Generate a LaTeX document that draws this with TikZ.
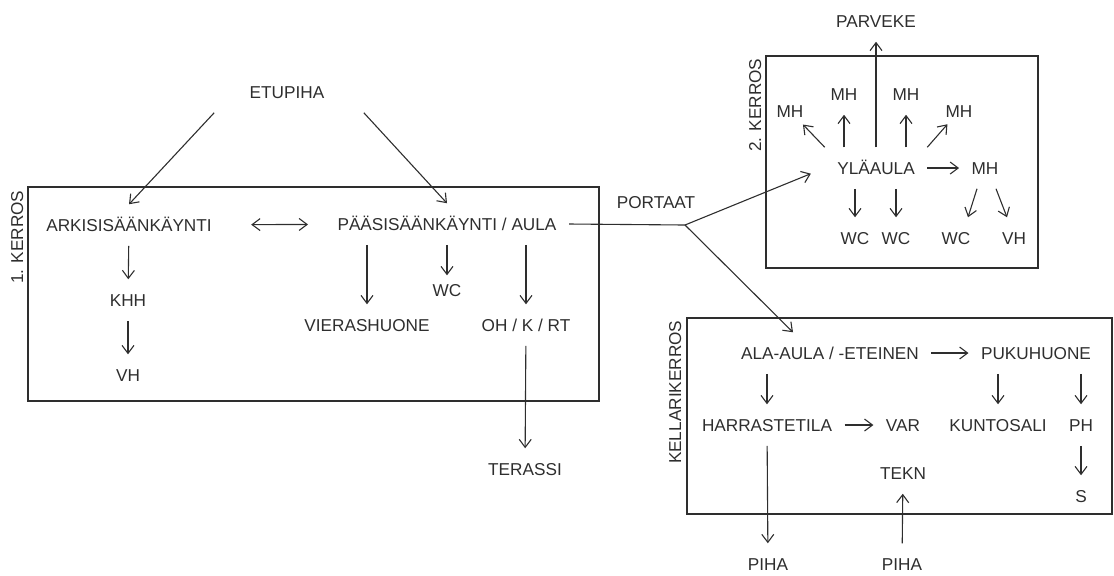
\documentclass[tikz,border=0pt]{standalone}
\usepackage{fontspec}
\setmainfont{Liberation Sans}
\usetikzlibrary{arrows.meta}

\begin{document}
\begin{tikzpicture}[x=0.5pt,y=-0.5pt,line width=0.55pt,color=black!82,
    >={Straight Barb[length=4pt,width=6pt]},
    room/.style={font=\fontsize{8.6}{10}\selectfont,inner xsep=6pt,inner ysep=7pt,text height=6.2pt,text depth=0pt},
    floorlabel/.style={room,inner sep=0pt,rotate=90,anchor=east}]
    \useasboundingbox (0,0) rectangle (1114,575);
    \draw (28,187) rectangle (599,401);
    \draw (766,56) rectangle (1038,268);
    \draw (687,318) rectangle (1112,514);
    \node [floorlabel] (kerros1) at (17,190) {1. KERROS};
    \node [floorlabel] (kerros2) at (755,58) {2. KERROS};
    \node [floorlabel] (kellari) at (675,320) {KELLARIKERROS};
    \coordinate (jako) at (685,225);
    \node [room] (etupiha) at (287,92) {ETUPIHA};
    \node [room] (arki) at (129,225) {ARKISISÄÄNKÄYNTI};
    \node [room] (paasis) at (447,224) {PÄÄSISÄÄNKÄYNTI / AULA};
    \node [room] (khh) at (128,300) {KHH};
    \node [room] (vh1) at (128,375) {VH};
    \node [room] (vieras) at (367,325) {VIERASHUONE};
    \node [room] (wc1) at (447,290) {WC};
    \node [room] (ohkrt) at (526,325) {OH / K / RT};
    \node [room] (terassi) at (525,469) {TERASSI};
    \node [room] (portaat) at (656,202) {PORTAAT};
    \node [room] (parveke) at (876,21) {PARVEKE};
    \node [room] (ylaaula) at (876,168) {YLÄAULA};
    \node [room] (mh1) at (790,111) {MH};
    \node [room] (mh2) at (844,94) {MH};
    \node [room] (mh3) at (906,94) {MH};
    \node [room] (mh4) at (959,111) {MH};
    \node [room] (mh5) at (985,168) {MH};
    \node [room] (wc2) at (855,238) {WC};
    \node [room] (wc3) at (896,238) {WC};
    \node [room] (wc4) at (956,238) {WC};
    \node [room] (vh2) at (1014,238) {VH};
    \node [room] (alaaula) at (830,353) {ALA-AULA / -ETEINEN};
    \node [room] (puku) at (1036,353) {PUKUHUONE};
    \node [room] (harras) at (767,425) {HARRASTETILA};
    \node [room] (var) at (903,425) {VAR};
    \node [room] (kunto) at (998,425) {KUNTOSALI};
    \node [room] (ph) at (1081,425) {PH};
    \node [room] (tekn) at (903,473) {TEKN};
    \node [room] (s) at (1081,496) {S};
    \node [room] (piha1) at (768,564) {PIHA};
    \node [room] (piha2) at (902,564) {PIHA};
    \draw [->] ([xshift=-11.5pt]etupiha.south west) -- (arki.north);
    \draw [->] ([xshift=13.5pt]etupiha.south east) -- (paasis.north);
    \draw [<->,shorten <=13.5pt,shorten >=8.5pt] (arki) -- (paasis);
    \draw [->] (arki) -- (khh);
    \draw [->] (khh) -- (vh1);
    \draw [->] (paasis.south -| vieras) -- (vieras);
    \draw [->,shorten >=-3pt] (paasis.south -| wc1) -- (wc1);
    \draw [->] (paasis.south -| ohkrt) -- (ohkrt);
    \draw [->] (ohkrt) -- (terassi);
    \draw (paasis.east) -- (jako);
    \draw [->,shorten >=7.5pt] (jako) -- (ylaaula.west);
    \draw [->] (jako) -- ([xshift=-18.5pt]alaaula.north);
    \draw [->] (ylaaula) -- (parveke);
    \draw [->,shorten >=-5pt] (ylaaula.north west) -- (mh1);
    \draw [->] (ylaaula.north -| mh2) -- (mh2);
    \draw [->] (ylaaula.north -| mh3) -- (mh3);
    \draw [->,shorten >=-5pt] (ylaaula.north east) -- (mh4);
    \draw [->] (ylaaula) -- (mh5);
    \draw [->] (ylaaula.south -| wc2) -- (wc2);
    \draw [->] (ylaaula.south -| wc3) -- (wc3);
    \draw [->] ([xshift=-4pt]mh5.south) -- ([xshift=6pt]wc4.north);
    \draw [->] ([xshift=5.5pt]mh5.south) -- ([xshift=-3.5pt]vh2.north);
    \draw [->] (alaaula) -- (puku);
    \draw [->] (alaaula.south -| harras) -- (harras);
    \draw [->] (puku.south -| kunto) -- (kunto);
    \draw [->] (puku.south -| ph) -- (ph);
    \draw [->] (harras) -- (var);
    \draw [->] (harras) -- (piha1);
    \draw [->] (piha2) -- (tekn);
    \draw [->] (ph) -- (s);
\end{tikzpicture}
\end{document}
